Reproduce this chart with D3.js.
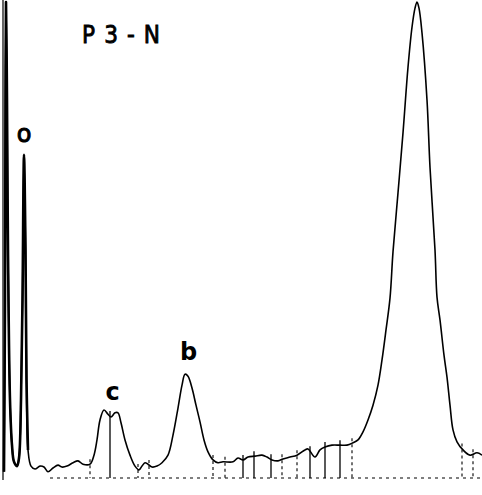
<!DOCTYPE html>
<html>
<head>
    <title>P3-N</title>
    <meta charset = "UTF-8">
    <script src="https://d3js.org/d3.v7.min.js"></script>
    <style>
        body { margin: 0; background: #fff; }
        svg { display: block; }
    </style>
</head>
<body>
<svg></svg>
<script>
    var width = 482,
    height = 495

    // retention time (min) and detector signal (% of full scale)
    var times = [0.1, 0.2, 0.25, 0.3, 0.4, 0.5, 0.7, 0.9, 1.1, 1.4, 1.6, 1.8, 1.95, 2.1, 2.25, 2.35, 2.5, 2.8,
        3.2, 3.7, 4.1, 4.5, 5.0, 5.5, 5.9, 6.4, 7.0, 7.5, 8.0, 8.7, 9.1, 9.4, 9.7, 10.1, 10.5, 10.8, 11.2, 11.5,
        11.8, 12.2, 12.7, 13.2, 13.6, 13.9, 14.2, 14.5, 14.9, 15.4, 15.9, 16.5, 17.0, 17.5, 17.9, 18.2, 18.5,
        18.9, 19.3, 19.7, 20.1, 20.5, 21.0, 21.5, 22.0, 23.0, 23.5, 24.0, 24.5, 25.2, 25.9, 26.4, 26.9, 27.5,
        28.0, 28.7, 29.4, 30.2, 30.5, 31.2, 31.7, 32.2, 32.9, 33.7, 34.4, 35.0, 35.5, 36.0, 36.5, 37.0, 37.5,
        37.9, 38.3, 38.7, 39.0, 39.5, 40.0, 40.5, 40.9, 41.2, 41.4, 41.6, 41.9, 42.4, 42.7, 43.2, 43.4, 43.7,
        44.1, 44.4, 44.7, 45.0, 45.4, 46.0, 46.7, 47.4, 47.9];
    var signal = [1.3, 37.4, 79.4, 100, 79.4, 47.9, 16.4, 6.9, 3.4, 2.5, 4.2, 16.4, 37.4, 67.9, 47.9, 20.6, 5.9, 2.5,
        1.9, 2.5, 2.3, 1.3, 2.1, 2.7, 2.3, 2.5, 3.2, 3.6, 2.9, 2.9, 4.8, 8.0, 12.2, 14.3, 13.4, 12.8, 13.7, 13.7,
        11.6, 8.0, 4.8, 2.5, 1.7, 2.5, 3.2, 2.9, 2.3, 2.5, 3.2, 4.8, 9.0, 14.7, 19.5, 21.8, 21.4,
        18.9, 15.3, 11.8, 8.0, 5.5, 3.8, 3.2, 3.4, 3.4, 4.2, 3.8, 4.4, 4.6, 4.8, 4.4, 3.8, 3.6,
        4.0, 4.4, 4.8, 5.9, 6.1, 4.4, 5.9, 6.5, 6.9, 6.9, 6.9, 7.4, 8.0, 9.7, 12.2, 15.3, 19.5,
        24.8, 31.1, 37.8, 47.5, 59.9, 72.5, 86.3, 94.7, 98.7, 100, 98.7, 93.5, 79.4, 65.3, 47.9, 38.0, 33.2,
        25.8, 21.2, 15.3, 10.1, 7.6, 5.9, 4.8, 5.3, 4.8];

    // integrator event marks
    var markTimes = [8.7, 10.7, 13.5, 14.6, 21.0, 22.2, 24.0, 25.1, 26.8, 27.9, 29.4, 30.7, 32.2, 33.7, 34.9, 45.9, 47.0];
    var markSolid = [false, true, false, false, false, false, true, true, true, false, false, true, true, true, false, false, false];

    var peakNames = ["o", "c", "b"];
    var peakTimes = [2.1, 10.95, 18.55];
    var peakHeights = [70.6, 16.4, 24.8];
    var peakBold = [false, true, true];

    var x = d3.scaleLinear().domain([0, 48]).range([3, 483]);
    var y = d3.scaleLinear().domain([0, 100]).range([478, 2]);

    var svg = d3.select("svg").attr("width", width).attr("height", height);
    svg.append("rect").attr("width", width).attr("height", height).attr("fill", "#fff");

    // left edge of recorder chart
    svg.append("line")
        .attr("x1", x(0)).attr("x2", x(0))
        .attr("y1", 0).attr("y2", y(0) + 2)
        .attr("stroke", "#000").attr("stroke-width", 1.2);

    // integrator baseline
    svg.append("line")
        .attr("x1", x(4.7)).attr("x2", x(48))
        .attr("y1", y(0)).attr("y2", y(0))
        .attr("stroke", "#000").attr("stroke-width", 1.2)
        .attr("stroke-dasharray", "3,4");

    var interp = function(t) {
        var i = d3.bisectLeft(times, t);
        if (i <= 0) return signal[0];
        if (i >= times.length) return signal[signal.length - 1];
        var f = (t - times[i - 1]) / (times[i] - times[i - 1]);
        return signal[i - 1] + f * (signal[i] - signal[i - 1]);
    };

    svg.selectAll("line.mark")
        .data(markTimes)
        .enter()
        .append("line")
        .attr("class", "mark")
        .attr("x1", function(d) {return x(d);})
        .attr("x2", function(d) {return x(d);})
        .attr("y1", function(d) {return y(interp(d)) - 5;})
        .attr("y2", y(0))
        .attr("stroke", "#000")
        .attr("stroke-width", function(d, i) {return markSolid[i] ? 1.3 : 1.1;})
        .attr("stroke-dasharray", function(d, i) {return markSolid[i] ? null : "3,3";});

    var line = d3.line()
        .x(function(d) {return x(d[0]);})
        .y(function(d) {return y(d[1]);})
        .curve(d3.curveCatmullRom.alpha(0.5));

    var pts = d3.zip(times, signal);

    svg.append("path")
        .datum(pts)
        .attr("d", line)
        .attr("fill", "none")
        .attr("stroke", "#000")
        .attr("stroke-width", 1.6)
        .attr("stroke-linejoin", "round");

    // early peaks were traced with a heavier pen
    svg.append("path")
        .datum(pts.filter(function(d) {return d[0] <= 2.5;}))
        .attr("d", line)
        .attr("fill", "none")
        .attr("stroke", "#000")
        .attr("stroke-width", 2.6)
        .attr("stroke-linejoin", "round");

    svg.selectAll("text.peak")
        .data(peakNames)
        .enter()
        .append("text")
        .attr("class", "peak")
        .attr("x", function(d, i) {return x(peakTimes[i]);})
        .attr("y", function(d, i) {return y(peakHeights[i]);})
        .attr("text-anchor", "middle")
        .attr("font-family", "DejaVu Sans")
        .attr("font-weight", function(d, i) {return peakBold[i] ? "bold" : "normal";})
        .attr("stroke", function(d, i) {return peakBold[i] ? null : "#000";})
        .attr("stroke-width", 1)
        .attr("font-size", 24)
        .text(function(d) {return d;});

    svg.append("text")
        .attr("x", 82)
        .attr("y", 43)
        .attr("font-family", "DejaVu Sans Condensed, DejaVu Sans")
        .attr("font-size", 24)
        .attr("stroke", "#000")
        .attr("stroke-width", 0.8)
        .attr("textLength", 78)
        .attr("lengthAdjust", "spacing")
        .text("P3-N");
</script>
</body>
</html>
